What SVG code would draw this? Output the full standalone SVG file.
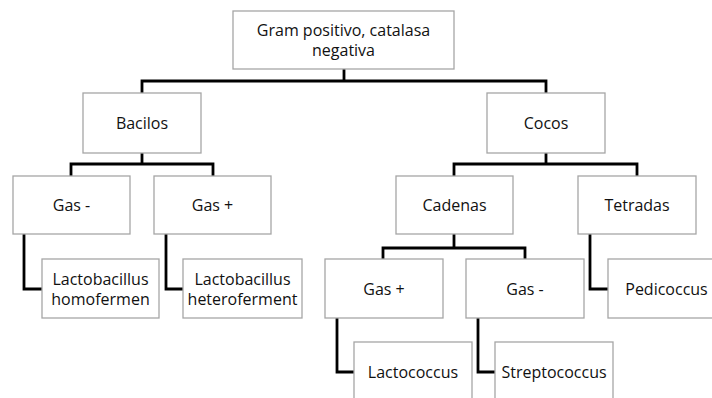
<svg xmlns="http://www.w3.org/2000/svg" width="712" height="398" viewBox="0 0 712 398">
<style>
.box{fill:#fff;stroke:#a6a6a6;stroke-width:1.3}
.t{font-family:"Open Sans","Liberation Sans",sans-serif;font-size:16px;fill:#111;text-anchor:middle}
.c{fill:none;stroke:#000;stroke-width:2.8;stroke-linejoin:miter}
</style>
<rect width="712" height="398" fill="#fff"/>
<g id="connectors">
<path class="c" d="M344 69V81M142 93V81H546V93"/>
<path class="c" d="M142 153V164M71 176V164H213V176"/>
<path class="c" d="M546 153V164M454 176V164H637V176"/>
<path class="c" d="M24 234V289H42"/>
<path class="c" d="M166 234V289H183"/>
<path class="c" d="M454 234V248M383 259V248H525V259"/>
<path class="c" d="M590 234V289H608"/>
<path class="c" d="M337 318V372H354"/>
<path class="c" d="M478 318V372H495"/>
</g>
<g id="root"><rect class="box" x="233" y="11" width="221" height="58"/><text class="t" x="343.5" y="36">Gram positivo, catalasa</text><text class="t" x="343.5" y="56">negativa</text></g>
<g id="bacilos"><rect class="box" x="83" y="93" width="118" height="60"/><text class="t" x="142" y="129">Bacilos</text></g>
<g id="cocos"><rect class="box" x="487" y="93" width="118" height="60"/><text class="t" x="546" y="129">Cocos</text></g>
<g id="gas-minus-b"><rect class="box" x="13" y="176" width="117" height="58"/><text class="t" x="71.5" y="211">Gas -</text></g>
<g id="gas-plus-b"><rect class="box" x="154" y="176" width="117" height="58"/><text class="t" x="212.5" y="211">Gas +</text></g>
<g id="cadenas"><rect class="box" x="396" y="176" width="117" height="58"/><text class="t" x="454.5" y="211">Cadenas</text></g>
<g id="tetradas"><rect class="box" x="578" y="176" width="118" height="58"/><text class="t" x="637" y="211">Tetradas</text></g>
<g id="lacto-homo"><rect class="box" x="42" y="259" width="117" height="59"/><text class="t" x="100.5" y="285">Lactobacillus</text><text class="t" x="100.5" y="305">homofermen</text></g>
<g id="lacto-hetero"><rect class="box" x="183" y="259" width="119" height="59"/><text class="t" x="242.5" y="285">Lactobacillus</text><text class="t" x="242.5" y="305">heteroferment</text></g>
<g id="gas-plus-c"><rect class="box" x="325" y="259" width="118" height="59"/><text class="t" x="384" y="295">Gas +</text></g>
<g id="gas-minus-c"><rect class="box" x="466" y="259" width="118" height="59"/><text class="t" x="525" y="295">Gas -</text></g>
<g id="pedicoccus"><rect class="box" x="608" y="259" width="117" height="59"/><text class="t" x="666.5" y="295">Pedicoccus</text></g>
<g id="lactococcus"><rect class="box" x="354" y="342" width="118" height="60"/><text class="t" x="413" y="378">Lactococcus</text></g>
<g id="streptococcus"><rect class="box" x="495" y="342" width="118" height="60"/><text class="t" x="554" y="378">Streptococcus</text></g>
</svg>
